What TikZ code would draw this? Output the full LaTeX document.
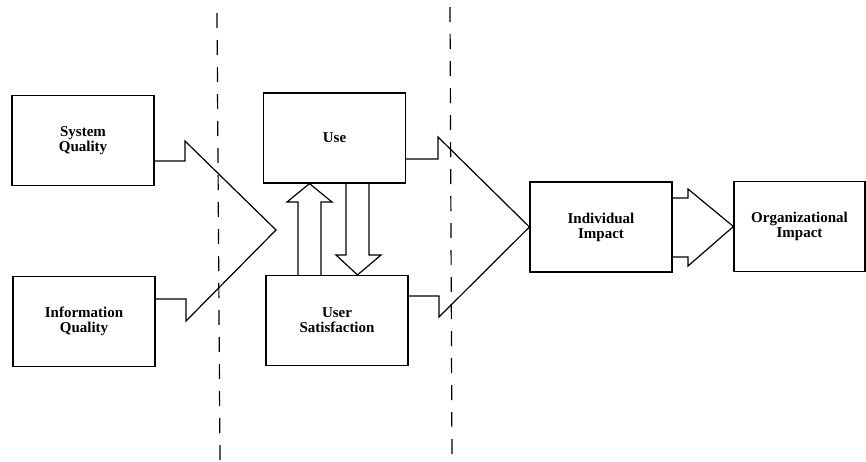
\documentclass[tikz,border=0pt]{standalone}
\usepackage{fontspec}
\setmainfont{Liberation Serif}
\usetikzlibrary{calc}
\tikzset{
  box/.style={draw, line width=1.2pt, minimum width=142pt, minimum height=90pt,
    align=center, font=\bfseries\fontsize{15}{15}\selectfont},
  fat/.style={draw, line width=1.2pt, line join=miter},
  divider/.style={line width=1.2pt, dash pattern=on 15pt off 12pt}
}
\begin{document}
\begin{tikzpicture}[x=1pt, y=-1pt]
	\useasboundingbox (0,0) rectangle (866,461);
	
	% Boxen
	\node[box] (sq) at (83,140.5) {System\\Quality};
	\node[box] (iq) at (84,321.5) {Information\\Quality};
	\node[box] (use) at (334.5,138) {Use};
	\node[box] (us) at (337,320.5) {User\\Satisfaction};
	\node[box] (ii) at (601,227) {Individual\\Impact};
	\node[box, minimum width=131pt] (oi) at (799.5,226.5) {Organizational\\Impact};
	
	% Trennlinien
	\draw[divider] (217,13) -- (220,461);
	\draw[divider] (450,7) -- (452,461);
	
	% Pfeil Qualitaet -> Use / Satisfaction
	\coordinate (tip1) at (276,230);
	\draw[fat] (sq.east |- 0,161) -- (185,161) -- (185,141) -- (tip1)
		-- (186,321) -- (186,299) -- (iq.east |- 0,299);
	
	% Pfeil Use / Satisfaction -> Individual Impact
	\draw[fat] (use.east |- 0,159) -- (438,159) -- (438,137) -- (ii.west)
		-- (439,317) -- (439,296) -- (us.east |- 0,296);
	
	% Pfeil Individual -> Organizational Impact
	\draw[fat] (ii.east |- 0,198) -- (688,198) -- (688,189) -- (oi.west)
		-- (688,266) -- (688,257) -- (ii.east |- 0,257);
	
	% Satisfaction -> Use
	\draw[fat] (us.north -| 298,0) -- (298,202) -- (287,202) -- (use.south -| 309.5,0)
		-- (332,202) -- (321,202) -- (us.north -| 321,0);
	
	% Use -> Satisfaction
	\draw[fat] (use.south -| 346,0) -- (346,255) -- (336,255) -- (us.north -| 357.5,0)
		-- (381,255) -- (369,255) -- (use.south -| 369,0);
\end{tikzpicture}
\end{document}
